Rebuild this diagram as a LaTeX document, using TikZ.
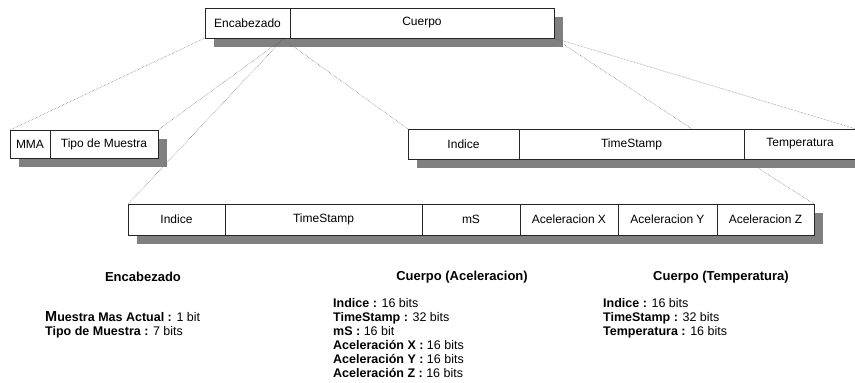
\documentclass[tikz,border=0pt]{standalone}
\usepackage{fontspec}
\setmainfont{Liberation Sans}
\usetikzlibrary{positioning,backgrounds,calc}

\begin{document}
\begin{tikzpicture}[x=1pt,y=-1pt,
	field/.style={draw=black!85, fill=white, line width=0.6pt, minimum height=30pt,
		inner sep=0pt, outer sep=0pt, font=\fontsize{12}{14}\selectfont},
	shade/.style={fill=black!50},
	link/.style={densely dotted, line width=0.5pt, black!60},
	title/.style={font=\fontsize{13}{15}\selectfont\bfseries},
	info/.style={align=left, anchor=north west, inner sep=0pt, font=\fontsize{12.5}{14}\selectfont}]
			%%%%% START %%%%%
			\useasboundingbox (0,0) rectangle (855,383);
			
			\node[field, minimum width=85, anchor=north west] (enc) at (205,8) {Encabezado};
			\node[field, minimum width=264, right=0pt of enc] (cue) {Cuerpo};
			
			\node[field, minimum width=40, minimum height=28, anchor=north west] (mma) at (10,130) {MMA};
			\node[field, minimum width=108, minimum height=28, right=0pt of mma] (tipo) {Tipo de Muestra};
			
			\node[field, minimum width=111, anchor=north west] (idx1) at (408,129) {Indice};
			\node[field, minimum width=225, right=0pt of idx1] (ts1) {TimeStamp};
			\node[field, minimum width=112, right=0pt of ts1] (temp) {Temperatura};
			
			\node[field, minimum width=97, minimum height=31, anchor=north west] (idx2) at (128,204) {Indice};
			\node[field, minimum width=197, minimum height=31, right=0pt of idx2] (ts2) {TimeStamp};
			\node[field, minimum width=98, minimum height=31, right=0pt of ts2] (ms) {mS};
			\node[field, minimum width=98, minimum height=31, right=0pt of ms] (ax) {Aceleracion X};
			\node[field, minimum width=99, minimum height=31, right=0pt of ax] (ay) {Aceleracion Y};
			\node[field, minimum width=97, minimum height=31, right=0pt of ay] (az) {Aceleracion Z};
			
			\coordinate (apex) at ($(enc.south east)+(-7,1)$);
			\coordinate (tsmark) at ($(temp.north west)+(-52,0)$);
			
			\begin{scope}[on background layer]
				\draw[link] (temp.south west) -- (az.north east);
				
				\fill[shade] ($(enc.north west)+(9,9)$) rectangle ($(cue.south east)+(9,9)$);
				\fill[shade] ($(mma.north west)+(9,9)$) rectangle ($(tipo.south east)+(9,9)$);
				\fill[shade] ($(idx1.north west)+(9,9)$) rectangle ($(temp.south east)+(9,9)$);
				\fill[shade] ($(idx2.north west)+(9,9)$) rectangle ($(az.south east)+(9,9)$);
				
				\draw[link] (enc.south west) -- (mma.north west);
				\draw[link] (apex) -- (tipo.north east);
				\draw[link] (apex) -- (idx2.north west);
				\draw[link] (apex) -- (idx1.north west);
				\draw[link] (cue.south east) -- (tsmark);
				\draw[link] (cue.south east) -- (temp.north east);
			\end{scope}
			
			\node[title] (tenc) at (143,277) {Encabezado};
			\node[info] (denc) at (45,311) {\textbf{{\fontsize{14.5}{14}\selectfont M}uestra Mas Actual :} 1 bit\\
				\textbf{Tipo de Muestra :} 7 bits};
			
			\node[title] (tacc) at (462,277) {Cuerpo (Aceleracion)};
			\node[info] (dacc) at (333,298) {\textbf{Indice :} 16 bits\\
				\textbf{TimeStamp :} 32 bits\\
				\textbf{mS :} 16 bit\\
				\textbf{Aceleración X :} 16 bits\\
				\textbf{Aceleración Y :} 16 bits\\
				\textbf{Aceleración Z :} 16 bits};
			
			\node[title] (ttem) at (721,277) {Cuerpo (Temperatura)};
			\node[info] (dtem) at (603,298) {\textbf{Indice :} 16 bits\\
				\textbf{TimeStamp :} 32 bits\\
				\textbf{Temperatura :} 16 bits};
			%%%%% END %%%%%
\end{tikzpicture}
\end{document}
